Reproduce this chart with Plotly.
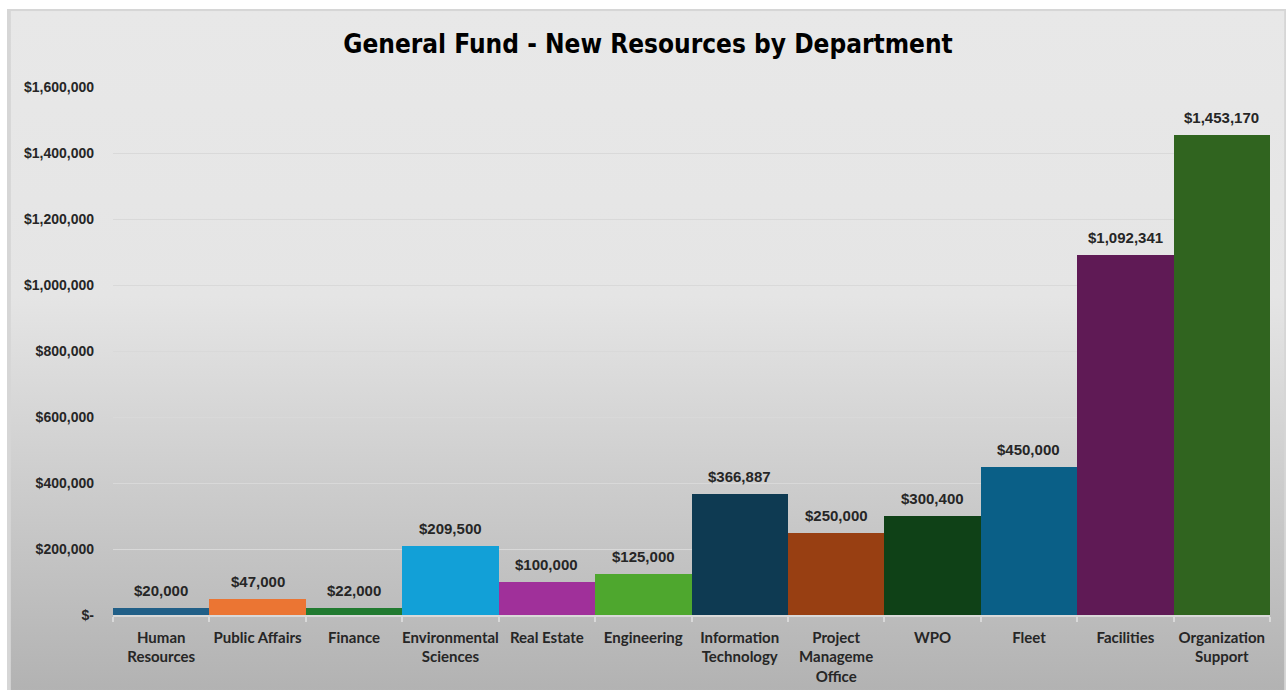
import base64
import plotly.graph_objects as go

# Departments and their new General Fund resources
departments = [
    "Human<br>Resources", "Public Affairs", "Finance", "Environmental<br>Sciences",
    "Real Estate", "Engineering", "Information<br>Technology", "Project<br>Manageme<br>Office",
    "WPO", "Fleet", "Facilities", "Organization<br>Support",
]
amounts = [20000, 47000, 22000, 209500, 100000, 125000, 366887, 250000, 300400, 450000, 1092341, 1453170]
bar_colors = [
    "#215F87", "#EB7533", "#217A30", "#12A0D7", "#A0309A", "#4EA72E",
    "#0E3A52", "#983F12", "#0F4117", "#0A5F87", "#5F1A55", "#30641F",
]
y_ticks = [0, 200000, 400000, 600000, 800000, 1000000, 1200000, 1400000, 1600000]
y_tick_labels = ["$-"] + [f"${v:,.0f}" for v in y_ticks[1:]]

W, H = 1286, 690
ML, MR, MT, MB = 113, 16, 87, 75

# Vertical grey gradient for the chart panel
svg = (
    '<svg xmlns="http://www.w3.org/2000/svg" width="100" height="100" preserveAspectRatio="none" viewBox="0 0 100 100">'
    '<defs><linearGradient id="g" x1="0" y1="0" x2="0" y2="1">'
    '<stop offset="0" stop-color="#e8e8e8"/><stop offset="0.42" stop-color="#e5e5e5"/>'
    '<stop offset="1" stop-color="#b2b2b2"/></linearGradient></defs>'
    '<rect x="0" y="0" width="100" height="100" fill="url(#g)" stroke="#d6d6d6" stroke-width="0.6"/></svg>'
)
svg_uri = "data:image/svg+xml;base64," + base64.b64encode(svg.encode()).decode()

pw = W - ML - MR
ph = H - MT - MB
panel_x0 = (7 - ML) / pw
panel_x1 = (W + 2 - ML) / pw
panel_y1 = (H - MB - 9) / ph
panel_y0 = (H - MB - H - 2) / ph

label_font = dict(family="Liberation Sans, Arial, sans-serif", size=15, color="#262626", weight="bold")

fig = go.Figure(
    go.Bar(
        x=departments,
        y=amounts,
        marker=dict(color=bar_colors, line=dict(width=0)),
        width=1.0,
        hoverinfo="skip",
    )
)

# Value labels above each bar
for dept, val in zip(departments, amounts):
    fig.add_annotation(
        x=dept, y=val, xref="x", yref="y",
        text=f"${val:,.0f}",
        showarrow=False,
        yanchor="bottom",
        yshift=7,
        font=label_font,
    )

fig.update_layout(
    width=W,
    height=H,
    margin=dict(l=ML, r=MR, t=MT, b=MB),
    paper_bgcolor="white",
    plot_bgcolor="rgba(0,0,0,0)",
    showlegend=False,
    bargap=0,
    title=dict(
        text="<b>General Fund - New Resources by Department</b>",
        x=648 / W,
        xref="container",
        xanchor="center",
        y=1 - 44 / H,
        yanchor="middle",
        font=dict(family="DejaVu Sans Condensed, Liberation Sans Narrow, Roboto Condensed, Liberation Sans, sans-serif",
                  size=26, color="#000000"),
    ),
    images=[
        dict(
            source=svg_uri,
            xref="paper", yref="paper",
            x=panel_x0, y=panel_y1,
            sizex=panel_x1 - panel_x0, sizey=panel_y1 - panel_y0,
            xanchor="left", yanchor="top",
            sizing="stretch",
            layer="below",
        )
    ],
)

fig.update_xaxes(
    automargin=False,
    showgrid=False,
    showline=True,
    linecolor="#d9d9d9",
    linewidth=1.5,
    ticks="outside",
    tickson="boundaries",
    ticklen=5,
    tickcolor="#d9d9d9",
    tickwidth=1.5,
    tickangle=0,
    tickfont=dict(family="Lato, Roboto, sans-serif", size=15, color="#262626", weight="bold"),
    ticklabelstandoff=8,
)

fig.update_yaxes(
    automargin=False,
    range=[0, 1600000],
    tickvals=y_ticks,
    ticktext=y_tick_labels,
    showgrid=True,
    gridcolor="#d9d9d9",
    gridwidth=1.2,
    zeroline=False,
    showline=False,
    ticks="",
    tickfont=dict(family="Liberation Sans, Arial, sans-serif", size=14, color="#262626", weight="bold"),
    ticklabelstandoff=18,
)

fig.write_html("out.html")
